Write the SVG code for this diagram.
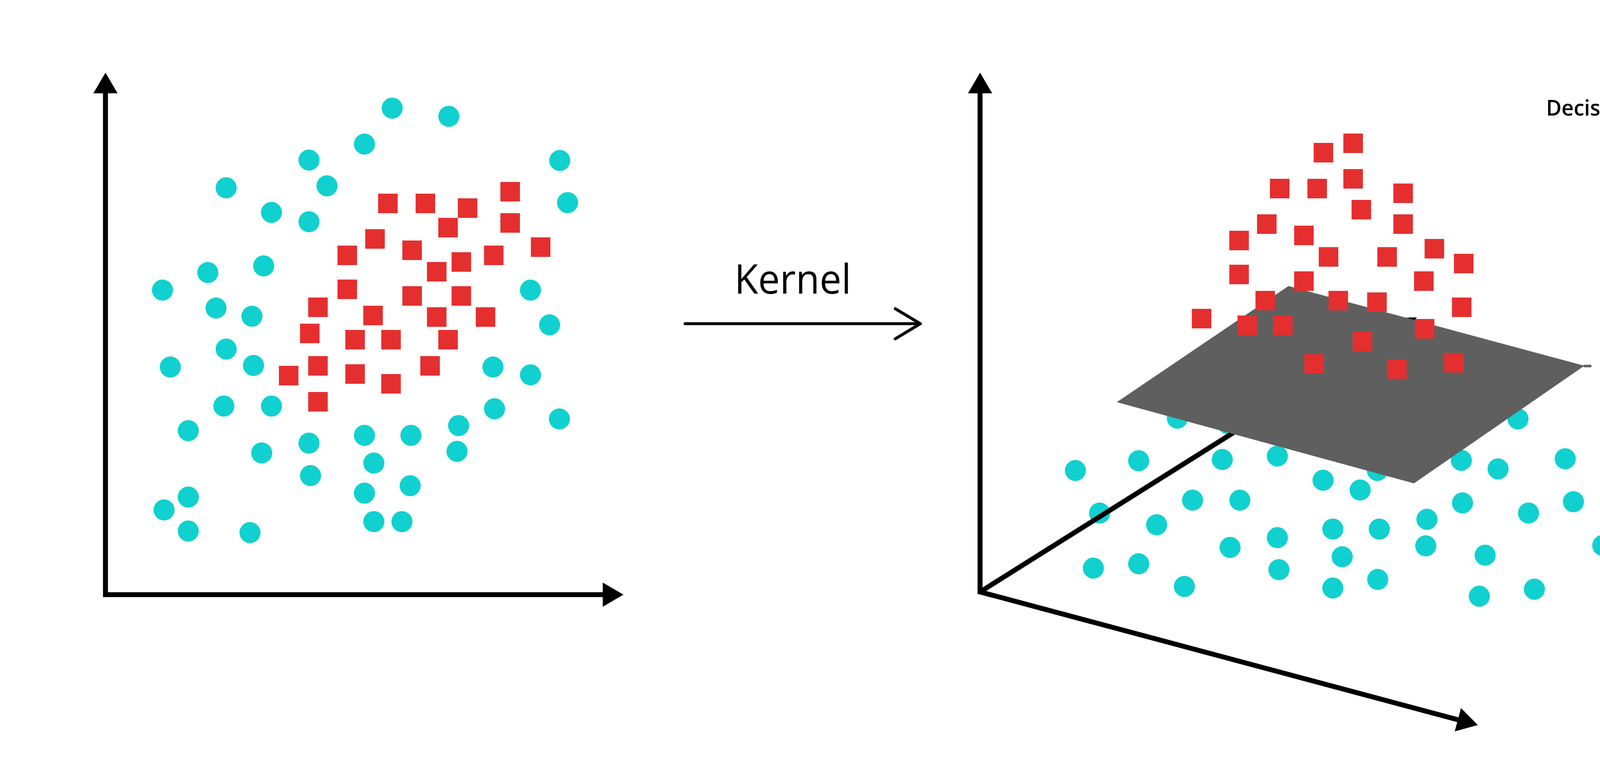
<svg xmlns="http://www.w3.org/2000/svg" width="4631" height="1967" viewBox="0 0 4631 1967">
<style>
.c{fill:#10D1CF}
.s{fill:#E52F2F}
.ax{fill:none;stroke:#000;stroke-width:12.7;stroke-linejoin:miter}
.lbl{font-family:"Open Sans","Liberation Sans",sans-serif;fill:#000}
</style>
<defs>
<marker id="ah" markerUnits="userSpaceOnUse" markerWidth="54" markerHeight="62" viewBox="0 0 54 62" refX="0" refY="31" orient="auto-start-reverse">
<path d="M0,0 L53,31 L0,62 Z" fill="#000"/>
</marker>
<circle id="dot" r="27"/>
<rect id="sq" width="50" height="50"/>
</defs>
<rect width="4631" height="1967" fill="#fff"/>

<g id="left-plot">
<g id="left-circles" class="c">
<use href="#dot" x="1004" y="277"/><use href="#dot" x="1149" y="298"/><use href="#dot" x="933" y="369"/><use href="#dot" x="791" y="410"/><use href="#dot" x="1433" y="411"/>
<use href="#dot" x="579" y="481"/><use href="#dot" x="837" y="476"/><use href="#dot" x="1453" y="519"/><use href="#dot" x="695" y="544"/><use href="#dot" x="791" y="568"/>
<use href="#dot" x="675" y="681"/><use href="#dot" x="532" y="698"/><use href="#dot" x="416" y="743"/><use href="#dot" x="1358" y="743"/><use href="#dot" x="553" y="789"/>
<use href="#dot" x="645" y="810"/><use href="#dot" x="1407" y="832"/><use href="#dot" x="579" y="894"/><use href="#dot" x="436" y="940"/><use href="#dot" x="649" y="936"/>
<use href="#dot" x="1262" y="940"/><use href="#dot" x="1358" y="960"/><use href="#dot" x="573" y="1040"/><use href="#dot" x="695" y="1040"/><use href="#dot" x="1266" y="1047"/>
<use href="#dot" x="1432" y="1073"/><use href="#dot" x="482" y="1103"/><use href="#dot" x="1174" y="1090"/><use href="#dot" x="933" y="1115"/><use href="#dot" x="1052" y="1115"/>
<use href="#dot" x="791" y="1135"/><use href="#dot" x="670" y="1160"/><use href="#dot" x="1170" y="1156"/><use href="#dot" x="957" y="1186"/><use href="#dot" x="795" y="1218"/>
<use href="#dot" x="1050" y="1244"/><use href="#dot" x="933" y="1263"/><use href="#dot" x="482" y="1273"/><use href="#dot" x="420" y="1306"/><use href="#dot" x="482" y="1360"/>
<use href="#dot" x="640" y="1364"/><use href="#dot" x="957" y="1336"/><use href="#dot" x="1029" y="1336"/>
</g>
<g id="left-squares" class="s">
<use href="#sq" x="968" y="496"/><use href="#sq" x="1064" y="496"/><use href="#sq" x="1172" y="508"/><use href="#sq" x="1281" y="466"/><use href="#sq" x="1122" y="558"/>
<use href="#sq" x="1281" y="546"/><use href="#sq" x="935" y="587"/><use href="#sq" x="1030" y="616"/><use href="#sq" x="864" y="629"/><use href="#sq" x="1156" y="646"/>
<use href="#sq" x="1239" y="629"/><use href="#sq" x="1359" y="608"/><use href="#sq" x="1093" y="671"/><use href="#sq" x="864" y="716"/><use href="#sq" x="1030" y="733"/>
<use href="#sq" x="1156" y="733"/><use href="#sq" x="789" y="762"/><use href="#sq" x="930" y="783"/><use href="#sq" x="1093" y="787"/><use href="#sq" x="1218" y="787"/>
<use href="#sq" x="768" y="829"/><use href="#sq" x="884" y="845"/><use href="#sq" x="976" y="845"/><use href="#sq" x="1122" y="845"/><use href="#sq" x="789" y="912"/>
<use href="#sq" x="1076" y="912"/><use href="#sq" x="714" y="937"/><use href="#sq" x="884" y="933"/><use href="#sq" x="976" y="958"/><use href="#sq" x="789" y="1004"/>
</g>
<g id="left-axes">
<path class="ax" d="M270 239 V1523 H1543" marker-start="url(#ah)" marker-end="url(#ah)"/>
</g>
</g>

<g id="kernel-arrow">
<path d="M1754 829 H2356 M2292 790.7 L2356 829 L2292 867.7" fill="none" stroke="#000" stroke-width="7.7" stroke-linecap="round" stroke-linejoin="round"/>
<text class="lbl" x="1880" y="752" font-size="104" textLength="299" lengthAdjust="spacingAndGlyphs">Kernel</text>
</g>

<g id="right-plot">
<g id="right-circles" class="c">
<use href="#dot" x="2753" y="1205"/><use href="#dot" x="2915" y="1180"/><use href="#dot" x="3014" y="1071"/><use href="#dot" x="3129" y="1177"/><use href="#dot" x="3270" y="1168"/>
<use href="#dot" x="3387" y="1230"/><use href="#dot" x="3482" y="1255"/><use href="#dot" x="3526" y="1205"/><use href="#dot" x="3741" y="1179"/><use href="#dot" x="3835" y="1201"/>
<use href="#dot" x="3886" y="1073"/><use href="#dot" x="4007" y="1175"/><use href="#dot" x="4186" y="1205"/><use href="#dot" x="2815" y="1314"/><use href="#dot" x="3053" y="1281"/>
<use href="#dot" x="3174" y="1281"/><use href="#dot" x="2961" y="1344"/><use href="#dot" x="3744" y="1288"/><use href="#dot" x="3653" y="1330"/><use href="#dot" x="3913" y="1314"/>
<use href="#dot" x="4028" y="1285"/><use href="#dot" x="3412" y="1355"/><use href="#dot" x="3531" y="1355"/><use href="#dot" x="3270" y="1377"/><use href="#dot" x="3149" y="1402"/>
<use href="#dot" x="3650" y="1398"/><use href="#dot" x="3436" y="1426"/><use href="#dot" x="3802" y="1422"/><use href="#dot" x="4103" y="1397"/><use href="#dot" x="2799" y="1455"/>
<use href="#dot" x="2915" y="1444"/><use href="#dot" x="3032" y="1502"/><use href="#dot" x="3274" y="1459"/><use href="#dot" x="3412" y="1506"/><use href="#dot" x="3527" y="1484"/>
<use href="#dot" x="3787" y="1527"/><use href="#dot" x="3928" y="1509"/><use href="#dot" x="3143" y="1085"/>
</g>
<g id="right-axes">
<path class="ax" d="M2509 1522 V239" marker-end="url(#ah)"/>
<path class="ax" d="M2509 1516 L3732 1843.3" marker-end="url(#ah)"/>
<path class="ax" d="M2509 1516 L3582 841" marker-end="url(#ah)"/>
</g>
<g id="decision-plane">
<polygon points="2859,1030 3298.5,732.6 4056,936.8 3619.7,1238" fill="#5F5F5F"/>
</g>
<g id="right-squares" class="s">
<use href="#sq" x="3439" y="342"/><use href="#sq" x="3363" y="366"/><use href="#sq" x="3439" y="433"/><use href="#sq" x="3251" y="458"/><use href="#sq" x="3347" y="458"/>
<use href="#sq" x="3567" y="470"/><use href="#sq" x="3460" y="512"/><use href="#sq" x="3218" y="549"/><use href="#sq" x="3567" y="549"/><use href="#sq" x="3147" y="591"/>
<use href="#sq" x="3313" y="578"/><use href="#sq" x="3376" y="633"/><use href="#sq" x="3526" y="633"/><use href="#sq" x="3647" y="612"/><use href="#sq" x="3722" y="650"/>
<use href="#sq" x="3147" y="678"/><use href="#sq" x="3313" y="695"/><use href="#sq" x="3620" y="695"/><use href="#sq" x="3214" y="745"/><use href="#sq" x="3401" y="745"/>
<use href="#sq" x="3500" y="749"/><use href="#sq" x="3717" y="762"/><use href="#sq" x="3051" y="791"/><use href="#sq" x="3168" y="808"/><use href="#sq" x="3259" y="808"/>
<use href="#sq" x="3622" y="817"/><use href="#sq" x="3463" y="849"/><use href="#sq" x="3339" y="907"/><use href="#sq" x="3551" y="920"/><use href="#sq" x="3697" y="904"/>
</g>
</g>

<g id="decision-label">
<path d="M4171.6 342.6 V356 M4171.6 399.9 V431.7 M4171.6 474.5 V506.4 M4171.6 549.2 V581 M4171.6 623.8 V655.6 M4171.6 698.4 V730.2 M4171.6 773 V804.8 M4171.6 847.7 V879.5 M4056.3 937.4 H4071.2 M4101.8 937.4 H4125.8" fill="none" stroke="#606060" stroke-width="6.5" stroke-linecap="round"/>
<path d="M4156 937.4 H4171.6 V922.3" fill="none" stroke="#606060" stroke-width="6.5" stroke-linecap="round" stroke-linejoin="miter"/>
<text class="lbl" x="3958" y="296" font-size="56" font-weight="600" textLength="428" lengthAdjust="spacingAndGlyphs">Decision surface</text>
</g>
</svg>
